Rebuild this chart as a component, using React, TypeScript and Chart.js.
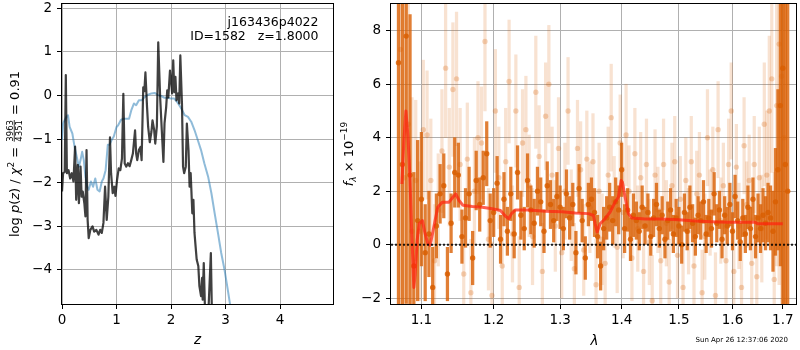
import React, { useEffect, useRef } from 'react';
import { Chart, registerables } from 'chart.js';

Chart.register(...registerables);

// ---------------- left panel: redshift probability ----------------
const PZ_Z = [
  0.00, 0.02, 0.05, 0.07, 0.09, 0.12, 0.15, 0.18, 0.21, 0.24,
  0.26, 0.29, 0.31, 0.34, 0.36, 0.38, 0.41, 0.43, 0.45, 0.47,
  0.49, 0.52, 0.56, 0.59, 0.63, 0.67, 0.70, 0.73, 0.76, 0.79,
  0.82, 0.85, 0.88, 0.90, 0.93, 0.96, 0.98, 1.01, 1.04, 1.07,
  1.10, 1.125, 1.15, 1.18, 1.21, 1.24, 1.27, 1.30, 1.34, 1.36,
  1.38, 1.41, 1.44, 1.46, 1.49, 1.51, 1.53, 1.56, 1.58, 1.61,
  1.64, 1.66, 1.69, 1.71, 1.74, 1.765, 1.80, 1.83, 1.86, 1.88,
  1.91, 1.93, 1.95, 1.98, 2.00, 2.02, 2.04, 2.06, 2.08, 2.10,
  2.13, 2.15, 2.17, 2.20, 2.22, 2.24, 2.27, 2.29, 2.32, 2.34,
  2.36, 2.39, 2.41, 2.43, 2.45, 2.47, 2.50, 2.52, 2.55, 2.57,
  2.58, 2.60, 2.62, 2.65, 2.68, 2.73, 2.75, 2.80,
];
const PZ_LOG = [
  -2.20, -1.78, -1.75, 0.47, -1.78, -1.71, -1.90, -1.78, -1.97, -1.17,
  -2.39, -1.59, -2.47, -1.63, -2.32, -2.20, -2.47, -2.77, -1.25, -2.85,
  -3.27, -3.08, -3.00, -3.12, -3.08, -3.19, -3.08, -3.15, -2.92, -2.09,
  -2.85, -2.32, -0.96, -1.78, -2.24, -2.09, -2.30, -1.93, -1.67, -1.71,
  -1.44, 0.04, -1.56, -1.63, -1.55, -1.62, -1.48, -1.33, -0.80, -1.33,
  -1.48, -1.25, -1.18, -1.48, 0.19, 0.10, 0.53, -0.27, -0.72, -1.07,
  -0.83, -0.57, -0.79, -1.10, -0.70, 1.22, -0.04, -0.79, -1.52, -0.64,
  -0.27, 0.12, -0.04, 0.57, 0.35, 0.05, 0.81, 0.08, 0.43, -0.11,
  0.05, -0.18, 0.92, -0.18, -1.63, -1.78, -1.63, -0.64, -1.25, -2.09,
  -1.78, -2.70, -2.39, -3.15, -3.46, -3.76, -3.91, -4.37, -4.60, -4.18,
  -4.68, -3.84, -4.80, -4.90, -5.10, -3.61, -5.05, -5.60,
];
const CHI_Z = [
  0.00, 0.02, 0.05, 0.08, 0.11, 0.14, 0.19, 0.23, 0.27, 0.31,
  0.34, 0.37, 0.40, 0.43, 0.46, 0.49, 0.53, 0.57, 0.61, 0.65,
  0.69, 0.73, 0.76, 0.80, 0.84, 0.87, 0.91, 0.95, 1.00, 1.03,
  1.08, 1.13, 1.18, 1.23, 1.27, 1.32, 1.36, 1.41, 1.46, 1.52,
  1.58, 1.64, 1.70, 1.76, 1.82, 1.88, 1.94, 2.00, 2.06, 2.13,
  2.19, 2.25, 2.31, 2.37, 2.43, 2.49, 2.55, 2.61, 2.68, 2.74,
  2.80, 2.86, 2.92, 2.98, 3.04, 3.08, 3.13, 3.20,
];
const CHI_LOG = [
  -1.02, -0.64, -0.56, -0.49, -0.45, -0.72, -0.87, -1.17, -1.40, -1.63,
  -1.48, -1.29, -1.48, -1.86, -2.09, -2.16, -1.97, -2.09, -1.90, -2.16,
  -2.20, -1.97, -1.90, -1.71, -1.13, -1.13, -1.02, -0.94, -0.72, -0.68,
  -0.56, -0.53, -0.53, -0.53, -0.34, -0.18, -0.22, -0.11, -0.11, -0.03,
  0.02, 0.05, 0.06, 0.01, -0.01, -0.05, -0.05, -0.07, -0.07, -0.18,
  -0.30, -0.45, -0.49, -0.60, -0.79, -1.02, -1.25, -1.55, -1.86, -2.24,
  -2.70, -3.15, -3.61, -3.99, -4.45, -4.77, -5.13, -5.70,
];
const Z_TICKS = [0, 1, 2, 3, 4];
const LOGP_TICKS = [-4, -3, -2, -1, 0, 1, 2];
const Z_MIN = 0;
const Z_MAX = 4.97;
const LOGP_MIN = -4.78;
const LOGP_MAX = 2.1;
const OBJ_NAME = 'j163436p4022';
const OBJ_INFO = 'ID=1582   z=1.8000';
const CHI_NUM = '3963';
const CHI_DEN = '4351';
const CHI_RED = '0.91';

// ---------------- right panel: spectrum ----------------
const DARK_LAM = [
  1.070, 1.075, 1.080, 1.085, 1.090, 1.095, 1.100, 1.105, 1.110, 1.115,
  1.120, 1.125, 1.130, 1.135, 1.140, 1.145, 1.150, 1.155, 1.160, 1.165,
  1.170, 1.175, 1.180, 1.185, 1.190, 1.195, 1.200, 1.205, 1.210, 1.215,
  1.220, 1.225, 1.230, 1.235, 1.240, 1.245, 1.250, 1.255, 1.260, 1.265,
  1.270, 1.275, 1.280, 1.285, 1.290, 1.295, 1.300, 1.305, 1.310, 1.315,
  1.320, 1.325, 1.330, 1.335, 1.340, 1.345, 1.350, 1.355, 1.360, 1.365,
  1.370, 1.375, 1.380, 1.385, 1.390, 1.395, 1.400, 1.405, 1.410, 1.415,
  1.420, 1.425, 1.430, 1.435, 1.440, 1.445, 1.450, 1.455, 1.460, 1.465,
  1.470, 1.475, 1.480, 1.485, 1.490, 1.495, 1.500, 1.505, 1.510, 1.515,
  1.520, 1.525, 1.530, 1.535, 1.540, 1.545, 1.550, 1.555, 1.560, 1.565,
  1.570, 1.575, 1.580, 1.585, 1.590, 1.595, 1.600, 1.605, 1.610, 1.615,
  1.620, 1.625, 1.630, 1.635, 1.640, 1.645, 1.650, 1.655, 1.660, 1.665,
  1.670, 1.675, 1.680, 1.685, 1.690, 1.695, 1.700, 1.705, 1.710,
];
const DARK_FLUX = [
  6.8, 3.0, 7.8, 2.6, -0.8, 0.9, 1.7, -0.3, 0.4, -1.6,
  0.7, 1.9, 2.2, -1.1, 0.8, 2.7, 2.6, 0.3, 1.0, 1.9,
  -0.5, 2.4, 1.5, 2.5, 3.4, 0.9, 1.2, 2.3, 0.2, 1.7,
  0.5, 1.9, 0.4, 2.7, 1.1, 0.6, 2.4, 1.3, 0.8, 2.0,
  1.6, 0.5, 2.2, 1.5, 0.9, 1.8, 1.4, 0.6, 1.9, 1.0,
  1.5, -0.3, 2.1, 0.9, -0.5, 1.5, 1.7, 1.2, 0.3, -0.8,
  0.6, 1.0, 1.4, 0.9, 1.6, 1.3, 2.8, 0.6, 1.3, 0.2,
  1.1, 0.9, 0.5, 1.4, 0.7, 1.2, 0.3, 1.0, 1.5, 0.6,
  1.1, 0.2, 0.9, 1.3, 0.4, 1.0, 0.7, 0.0, 1.2, 0.5,
  1.4, 0.8, 0.3, 1.1, 0.9, 1.6, 0.4, 1.0, 0.6, 1.9,
  0.8, 1.3, 0.2, 1.1, 0.7, 1.5, 0.5, 1.8, 0.9, 0.1,
  1.0, 0.4, 1.4, 0.6, 1.7, 0.3, 1.0, 0.6, 1.1, 0.8,
  1.2, 1.0, 0.5, 1.6, 2.8, 5.2, 6.6, 3.0, 2.0,
];
const DARK_ERR = [
  12, 9, 10, 6, 3.5, 3.0, 2.5, 1.8, 1.6, 1.5,
  1.2, 1.1, 1.2, 1.0, 1.1, 1.3, 1.2, 1.0, 1.1, 1.0,
  1.0, 1.1, 1.0, 1.0, 1.2, 1.0, 0.9, 1.0, 0.9, 1.0,
  0.9, 1.0, 0.9, 1.0, 0.9, 0.8, 1.0, 0.9, 0.9, 0.9,
  0.9, 0.8, 0.9, 0.9, 0.8, 0.9, 0.8, 0.8, 0.9, 0.8,
  0.8, 0.8, 0.9, 0.8, 0.8, 0.8, 0.8, 0.9, 0.8, 0.9,
  0.8, 0.8, 0.9, 0.9, 0.9, 0.9, 1.0, 0.9, 0.8, 0.8,
  0.8, 0.7, 0.7, 0.8, 0.7, 0.7, 0.7, 0.7, 0.8, 0.7,
  0.7, 0.7, 0.7, 0.8, 0.7, 0.7, 0.7, 0.7, 0.7, 0.7,
  0.8, 0.7, 0.7, 0.7, 0.7, 0.8, 0.7, 0.7, 0.7, 0.8,
  0.7, 0.7, 0.7, 0.7, 0.7, 0.8, 0.7, 0.8, 0.7, 0.7,
  0.7, 0.7, 0.8, 0.8, 0.8, 0.8, 0.9, 0.9, 1.0, 1.0,
  1.1, 1.2, 1.5, 2.0, 3.0, 6, 9, 12, 12,
];
const LIGHT_LAM = [
  1.0725, 1.0775, 1.0825, 1.0875, 1.0925, 1.0975, 1.1025, 1.1075, 1.1125, 1.1175,
  1.1225, 1.1275, 1.1325, 1.1375, 1.1425, 1.1475, 1.1525, 1.1575, 1.1625, 1.1675,
  1.1725, 1.1775, 1.1825, 1.1875, 1.1925, 1.1975, 1.2025, 1.2075, 1.2125, 1.2175,
  1.2225, 1.2275, 1.2325, 1.2375, 1.2425, 1.2475, 1.2525, 1.2575, 1.2625, 1.2675,
  1.2725, 1.2775, 1.2825, 1.2875, 1.2925, 1.2975, 1.3025, 1.3075, 1.3125, 1.3175,
  1.3225, 1.3275, 1.3325, 1.3375, 1.3425, 1.3475, 1.3525, 1.3575, 1.3625, 1.3675,
  1.3725, 1.3775, 1.3825, 1.3875, 1.3925, 1.3975, 1.4025, 1.4075, 1.4125, 1.4175,
  1.4225, 1.4275, 1.4325, 1.4375, 1.4425, 1.4475, 1.4525, 1.4575, 1.4625, 1.4675,
  1.4725, 1.4775, 1.4825, 1.4875, 1.4925, 1.4975, 1.5025, 1.5075, 1.5125, 1.5175,
  1.5225, 1.5275, 1.5325, 1.5375, 1.5425, 1.5475, 1.5525, 1.5575, 1.5625, 1.5675,
  1.5725, 1.5775, 1.5825, 1.5875, 1.5925, 1.5975, 1.6025, 1.6075, 1.6125, 1.6175,
  1.6225, 1.6275, 1.6325, 1.6375, 1.6425, 1.6475, 1.6525, 1.6575, 1.6625, 1.6675,
  1.6725, 1.6775, 1.6825, 1.6875, 1.6925, 1.6975, 1.7025,
];
const LIGHT_FLUX = [
  7.3, 2.5, 4.5, 0.5, 2.4, 0.5, 4.3, 4.1, 2.4, -0.6,
  1.3, 3.5, 6.6, 2.9, 5.8, 6.2, 3.0, -1.1, 3.2, -1.8,
  2.0, 4.0, 3.8, 7.6, 0.2, -1.9, 5.0, 2.5, -0.8, 3.1,
  6.1, 0.4, 5.0, -1.6, 3.8, 4.3, 2.2, 0.3, 5.7, 3.3,
  -1.0, 4.8, 6.0, 2.6, 0.7, 3.6, -0.3, 2.0, 5.0, 1.1,
  -0.9, 3.6, 2.8, -0.2, 3.2, 1.4, 3.1, -1.5, 2.0, 0.2,
  -0.7, 2.6, 4.75, 1.6, -0.1, 3.8, 1.2, 4.1, 2.0, -0.5,
  3.4, 0.6, 2.5, -1.0, 3.0, 0.1, -2.1, 2.6, 1.3, -0.6,
  3.0, 0.8, -1.4, 2.2, 3.1, -0.4, 1.7, -1.6, 2.4, 0.5,
  3.1, -0.8, 1.9, 2.6, -1.8, 0.3, 4.0, 1.2, 2.8, -1.9,
  4.3, 0.9, 2.2, -0.6, 3.0, 5.0, -1.0, 2.9, 0.7, -1.6,
  3.7, 1.5, 2.4, -0.7, 3.0, -1.2, 2.5, 0.6, 4.5, 2.6,
  5.0, 6.2, -1.3, 5.2, 7.5, 6.3, 4.0,
];
const LIGHT_ERR = [
  12, 10, 8, 5, 3, 2.6, 2.6, 2.4, 2.3, 2.1,
  2.1, 2.3, 2.6, 2.2, 2.5, 2.5, 2.1, 2.1, 2.1, 2.0,
  2.0, 2.1, 2.1, 2.6, 1.9, 2.0, 2.3, 1.9, 1.9, 2.0,
  2.3, 1.8, 2.1, 1.9, 2.0, 2.0, 1.9, 1.8, 2.1, 1.9,
  1.8, 2.0, 2.2, 1.8, 1.7, 1.9, 1.7, 1.8, 2.0, 1.7,
  1.7, 1.8, 1.8, 1.7, 1.8, 1.7, 1.8, 1.7, 1.8, 1.7,
  1.7, 1.8, 2.0, 1.7, 1.7, 1.8, 1.7, 1.9, 1.7, 1.6,
  1.7, 1.6, 1.7, 1.6, 1.7, 1.6, 1.7, 1.7, 1.6, 1.6,
  1.7, 1.6, 1.6, 1.6, 1.7, 1.6, 1.6, 1.6, 1.6, 1.6,
  1.7, 1.6, 1.6, 1.6, 1.6, 1.6, 1.8, 1.6, 1.6, 1.6,
  1.8, 1.6, 1.6, 1.6, 1.7, 1.8, 1.6, 1.6, 1.6, 1.6,
  1.8, 1.6, 1.7, 1.7, 1.8, 1.8, 1.9, 2.0, 2.3, 2.4,
  2.8, 3.5, 4, 6, 9, 11, 12,
];
const MODEL_LAM = [
  1.0744, 1.0770, 1.0796, 1.0822, 1.0847, 1.0873, 1.0900, 1.0917, 1.0943, 1.0970,
  1.1013, 1.1049, 1.1085, 1.1116, 1.1147, 1.1182, 1.1218, 1.1281, 1.1372, 1.1427,
  1.1464, 1.1510, 1.1565, 1.1695, 1.1836, 1.1979, 1.2099, 1.2172, 1.2221, 1.2260,
  1.2319, 1.2518, 1.2771, 1.3029, 1.3239, 1.3452, 1.3533, 1.3560, 1.3593, 1.3641,
  1.3724, 1.3807, 1.3890, 1.3946, 1.3991, 1.4013, 1.4058, 1.4114, 1.4171, 1.4402,
  1.4692, 1.4989, 1.5292, 1.5601, 1.5917, 1.6433, 1.6499, 1.6698, 1.6999,
];
const MODEL_FLUX = [
  2.27, 3.9, 5.0, 4.1, 2.6, 0.4, -1.6, -1.1, 0.16, 0.78,
  0.9, 0.4, 0.04, -0.02, 0.4, 0.9, 1.4, 1.59, 1.59, 1.78,
  1.9, 1.65, 1.47, 1.43, 1.4, 1.34, 1.28, 1.06, 0.97, 1.16,
  1.3, 1.3, 1.25, 1.23, 1.18, 1.16, 1.09, 0.78, 0.47, 0.78,
  0.97, 1.22, 1.59, 1.78, 2.4, 2.34, 1.78, 1.16, 1.0, 0.96,
  0.96, 0.93, 0.88, 0.86, 0.84, 0.84, 0.78, 0.78, 0.78,
];
const LAM_TICKS = [1.1, 1.2, 1.3, 1.4, 1.5, 1.6, 1.7];
const FLUX_TICKS = [-2, 0, 2, 4, 6, 8];
const LAM_MIN = 1.0604;
const LAM_MAX = 1.7272;
const FLUX_MIN = -2.22;
const FLUX_MAX = 9.0;
const ZERO_LEVEL = 0;
const TIMESTAMP = 'Sun Apr 26 12:37:06 2020';

// ---------------- helpers ----------------
const FAMILY = '"DejaVu Sans", sans-serif';
const font = (size: number, style = 'normal') => `${style} ${size}px ${FAMILY}`;
const TICK_FONT = { family: FAMILY, size: 13.5 };
const GRID_COLOR = '#b0b0b0';
const fmt = (v: number, d = 0) => (d ? v.toFixed(d) : String(v)).replace('-', '\u2212');

type Piece = { t?: string; f: string; dy?: number; frac?: [string, string] };

function drawPieces(ctx: CanvasRenderingContext2D, pieces: Piece[]) {
  const widths = pieces.map((p) => {
    ctx.font = p.f;
    if (p.frac) return Math.max(ctx.measureText(p.frac[0]).width, ctx.measureText(p.frac[1]).width) + 2;
    return ctx.measureText(p.t || '').width;
  });
  const total = widths.reduce((a, b) => a + b, 0);
  let x = -total / 2;
  ctx.textBaseline = 'alphabetic';
  pieces.forEach((p, i) => {
    ctx.font = p.f;
    if (p.frac) {
      const w = widths[i];
      ctx.textAlign = 'center';
      ctx.fillText(p.frac[0], x + w / 2, -6.3);
      ctx.fillText(p.frac[1], x + w / 2, 3.2);
      ctx.fillRect(x + 1, -5.2, w - 2, 0.8);
      ctx.textAlign = 'left';
    } else {
      ctx.textAlign = 'left';
      ctx.fillText(p.t || '', x, p.dy || 0);
    }
    x += widths[i];
  });
}

function drawFrame(chart: any) {
  const { ctx, chartArea } = chart;
  ctx.save();
  ctx.strokeStyle = '#000';
  ctx.lineWidth = 1;
  const l = Math.round(chartArea.left) - 0.5;
  const t = Math.round(chartArea.top) - 0.5;
  const r = Math.round(chartArea.right) + 0.5;
  const b = Math.round(chartArea.bottom) + 0.5;
  ctx.strokeRect(l, t, r - l, b - t);
  ctx.restore();
}

const leftDecor = {
  id: 'leftDecor',
  afterDraw(chart: any) {
    drawFrame(chart);
    const { ctx } = chart;
    ctx.save();
    ctx.fillStyle = '#000';
    ctx.font = font(12.5);
    ctx.textAlign = 'right';
    ctx.textBaseline = 'alphabetic';
    ctx.fillText(OBJ_NAME, 318.5, 26);
    ctx.fillText(OBJ_INFO, 318.5, 39.5);
    ctx.font = font(13.5, 'italic');
    ctx.textAlign = 'center';
    ctx.fillText('z', 197.5, 344);
    ctx.translate(19, 154);
    ctx.rotate(-Math.PI / 2);
    const n = font(13);
    const it = font(13, 'italic');
    drawPieces(ctx, [
      { t: 'log ', f: n },
      { t: 'p', f: it },
      { t: '(', f: n },
      { t: 'z', f: it },
      { t: ') / ', f: n },
      { t: '\u03c7', f: it },
      { t: '2', f: font(9), dy: -5.5 },
      { t: ' = ', f: n },
      { frac: [CHI_NUM, CHI_DEN], f: font(8.5) },
      { t: ' = ' + CHI_RED, f: n },
    ]);
    ctx.restore();
  },
};

const rightDecor = {
  id: 'rightDecor',
  afterDraw(chart: any) {
    drawFrame(chart);
    const { ctx } = chart;
    ctx.save();
    ctx.fillStyle = '#000';
    ctx.font = font(13.5, 'italic');
    ctx.textAlign = 'center';
    ctx.textBaseline = 'alphabetic';
    ctx.fillText('\u03bb', 254.5, 345);
    ctx.font = font(7);
    ctx.textAlign = 'right';
    ctx.fillText(TIMESTAMP, 448, 342);
    ctx.translate(12.5, 154);
    ctx.rotate(-Math.PI / 2);
    drawPieces(ctx, [
      { t: 'f', f: font(13, 'italic') },
      { t: '\u03bb', f: font(9, 'italic'), dy: 3 },
      { t: ' \u00d7 10', f: font(13) },
      { t: '\u221219', f: font(9), dy: -6 },
    ]);
    ctx.restore();
  },
};

const fixY = (w: number) => (s: any) => {
  s.width = w;
  s.paddingTop = 0;
  s.paddingBottom = 0;
};
const fixX = (h: number) => (s: any) => {
  s.height = h;
  s.paddingLeft = 0;
  s.paddingRight = 0;
};
const gridOpts = { color: GRID_COLOR, lineWidth: 1, tickColor: '#000', tickLength: 5, tickWidth: 1, offset: false };

function makeLeft(canvas: HTMLCanvasElement) {
  return new Chart(canvas, {
    type: 'scatter',
    data: {
      datasets: [
        {
          data: PZ_Z.map((x, i) => ({ x, y: PZ_LOG[i] })),
          showLine: true,
          borderColor: 'rgba(0,0,0,0.75)',
          borderWidth: 2.2,
          pointRadius: 0,
          tension: 0,
          borderJoinStyle: 'round',
          order: 0,
        },
        {
          data: CHI_Z.map((x, i) => ({ x, y: CHI_LOG[i] })),
          showLine: true,
          borderColor: 'rgba(31,119,180,0.5)',
          borderWidth: 2,
          pointRadius: 0,
          tension: 0,
          borderJoinStyle: 'round',
          order: 1,
        },
      ],
    },
    options: {
      responsive: false,
      animation: false,
      events: [],
      layout: { padding: { left: 0, right: 7, top: 4, bottom: 0 } },
      plugins: { legend: { display: false }, tooltip: { enabled: false } },
      scales: {
        x: {
          type: 'linear',
          min: Z_MIN,
          max: Z_MAX,
          afterBuildTicks: (s: any) => { s.ticks = Z_TICKS.map((value) => ({ value })); },
          afterFit: fixX(46),
          ticks: { font: TICK_FONT, color: '#000', padding: 3, maxRotation: 0, autoSkip: false, callback: (v: any) => fmt(Number(v)) },
          grid: gridOpts,
          border: { display: false },
        },
        y: {
          type: 'linear',
          min: LOGP_MIN,
          max: LOGP_MAX,
          afterBuildTicks: (s: any) => { s.ticks = LOGP_TICKS.map((value) => ({ value })); },
          afterFit: fixY(62),
          ticks: { font: TICK_FONT, color: '#000', padding: 5, autoSkip: false, callback: (v: any) => fmt(Number(v)) },
          grid: gridOpts,
          border: { display: false },
        },
      },
    },
    plugins: [leftDecor],
  } as any);
}

const ORANGE = '217,95,2';

function makeRight(canvas: HTMLCanvasElement) {
  return new Chart(canvas, {
    type: 'scatter',
    data: {
      datasets: [
        {
          data: [{ x: LAM_MIN, y: ZERO_LEVEL }, { x: LAM_MAX, y: ZERO_LEVEL }],
          showLine: true,
          borderColor: 'rgba(0,0,0,0.85)',
          borderWidth: 2,
          borderDash: [2, 2],
          pointRadius: 0,
          order: 0,
        },
        {
          data: MODEL_LAM.map((x, i) => ({ x, y: MODEL_FLUX[i] })),
          showLine: true,
          borderColor: 'rgba(255,35,15,0.72)',
          borderWidth: 3,
          pointRadius: 0,
          tension: 0,
          borderJoinStyle: 'round',
          order: 1,
        },
        {
          data: DARK_LAM.map((x, i) => ({ x, y: DARK_FLUX[i] })),
          pointRadius: 2.7,
          pointBorderWidth: 0,
          backgroundColor: `rgba(${ORANGE},0.85)`,
          order: 2,
        },
        {
          type: 'bar',
          data: DARK_LAM.map((x, i) => ({ x, y: [DARK_FLUX[i] - DARK_ERR[i], DARK_FLUX[i] + DARK_ERR[i]] })),
          backgroundColor: `rgba(${ORANGE},0.8)`,
          borderWidth: 0,
          barThickness: 2.6,
          grouped: false,
          order: 3,
        },
        {
          data: LIGHT_LAM.map((x, i) => ({ x, y: LIGHT_FLUX[i] })),
          pointRadius: 2.7,
          pointBorderWidth: 0,
          backgroundColor: `rgba(${ORANGE},0.26)`,
          order: 4,
        },
        {
          type: 'bar',
          data: LIGHT_LAM.map((x, i) => ({ x, y: [LIGHT_FLUX[i] - LIGHT_ERR[i], LIGHT_FLUX[i] + LIGHT_ERR[i]] })),
          backgroundColor: `rgba(${ORANGE},0.18)`,
          borderWidth: 0,
          barThickness: 2.6,
          grouped: false,
          order: 5,
        },
      ],
    },
    options: {
      responsive: false,
      animation: false,
      events: [],
      layout: { padding: { left: 0, right: 2, top: 4, bottom: 0 } },
      plugins: { legend: { display: false }, tooltip: { enabled: false } },
      scales: {
        x: {
          type: 'logarithmic',
          min: LAM_MIN,
          max: LAM_MAX,
          offset: false,
          afterBuildTicks: (s: any) => { s.ticks = LAM_TICKS.map((value) => ({ value })); },
          afterFit: fixX(46),
          ticks: { font: TICK_FONT, color: '#000', padding: 3, maxRotation: 0, autoSkip: false, callback: (v: any) => Number(v).toFixed(1) },
          grid: gridOpts,
          border: { display: false },
        },
        y: {
          type: 'linear',
          min: FLUX_MIN,
          max: FLUX_MAX,
          afterBuildTicks: (s: any) => { s.ticks = FLUX_TICKS.map((value) => ({ value })); },
          afterFit: fixY(51),
          ticks: { font: TICK_FONT, color: '#000', padding: 5, autoSkip: false, callback: (v: any) => fmt(Number(v)) },
          grid: gridOpts,
          border: { display: false },
        },
      },
    },
    plugins: [rightDecor],
  } as any);
}

export default function App() {
  const leftRef = useRef<HTMLCanvasElement>(null);
  const rightRef = useRef<HTMLCanvasElement>(null);
  useEffect(() => {
    const a = makeLeft(leftRef.current!);
    const b = makeRight(rightRef.current!);
    return () => {
      a.destroy();
      b.destroy();
    };
  }, []);
  return (
    <div style={{ position: 'fixed', left: 0, top: 0, width: 800, height: 350, background: '#fff' }}>
      <canvas ref={leftRef} width={340} height={350} style={{ position: 'absolute', left: 0, top: 0, width: 340, height: 350 }} />
      <canvas ref={rightRef} width={460} height={350} style={{ position: 'absolute', left: 340, top: 0, width: 460, height: 350 }} />
    </div>
  );
}
